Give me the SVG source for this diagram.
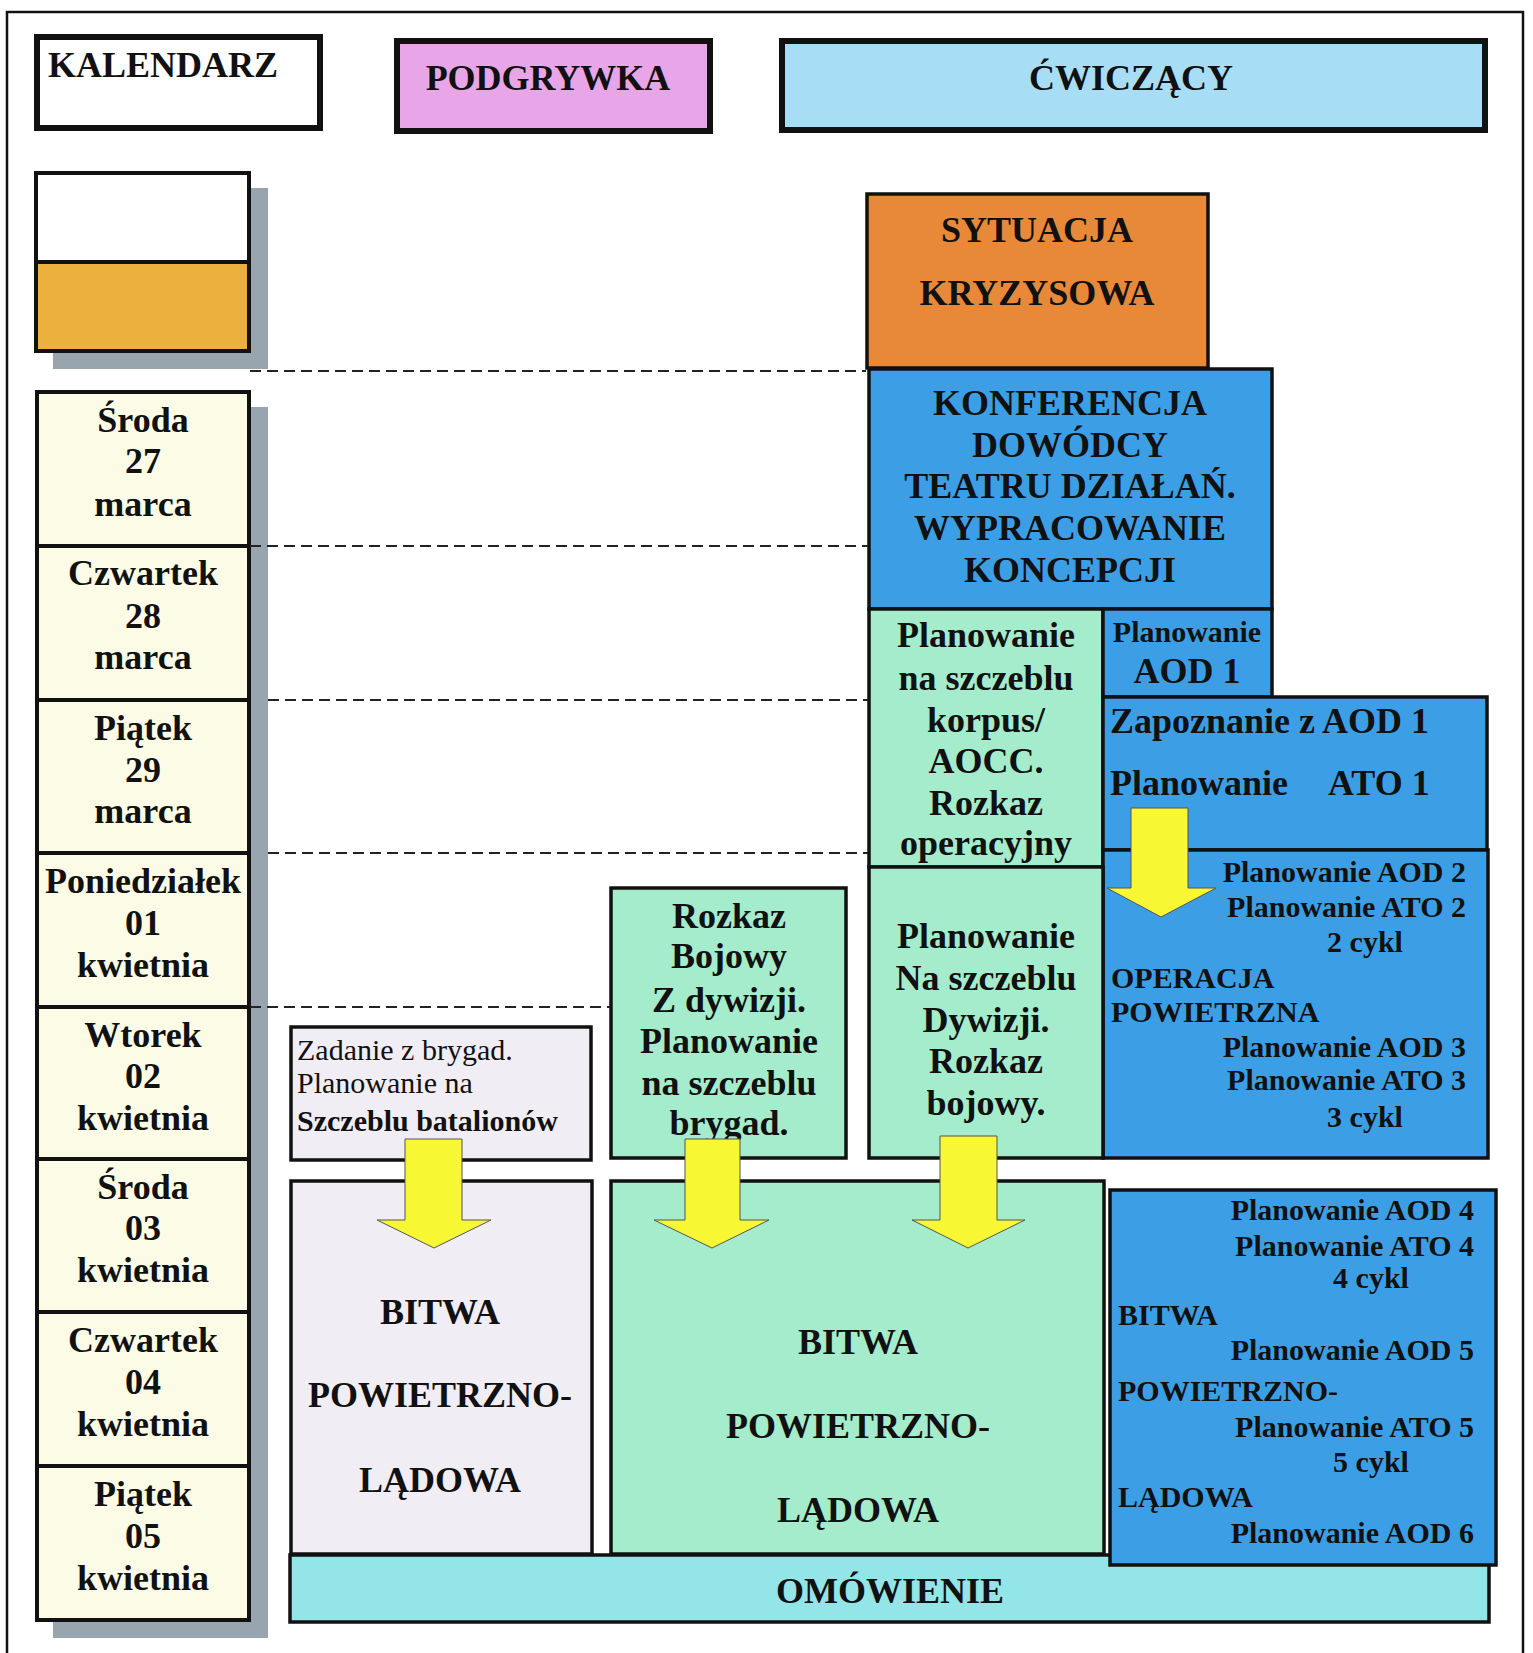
<svg xmlns="http://www.w3.org/2000/svg" width="1533" height="1653" viewBox="0 0 1533 1653">
<style>
text{font-family:"Liberation Serif","Times New Roman",serif;font-weight:bold;fill:#111;}
.c{text-anchor:middle;}
.e{text-anchor:end;}
.f36{font-size:36px;}
.f30{font-size:30px;}
.reg{font-weight:normal;}
.box{stroke:#111;stroke-width:3.5;}
.hdr{stroke:#111;stroke-width:6;}
.day{fill:#FCFCE6;stroke:#111;stroke-width:4;}
.blue{fill:#3C9FE6;}
.mint{fill:#A4ECCC;}
.lav{fill:#F1EDF5;}
.dash{stroke:#222;stroke-width:2;stroke-dasharray:11 6;fill:none;}
.arrow{fill:#F7F734;stroke:#555;stroke-width:1;}
.shadow{fill:#98A4AE;}
</style>
<rect x="0" y="0" width="1533" height="1653" fill="#fff"/>
<rect x="7" y="12" width="1516" height="1660" fill="none" stroke="#111" stroke-width="2.5"/>

<g id="kalendarz">
<rect class="hdr" x="37" y="37" width="283" height="91" fill="#fff"/>
<text class="f36" x="48" y="77">KALENDARZ</text>
</g>
<g id="podgrywka">
<rect class="hdr" x="397" y="41" width="313" height="90" fill="#E8A6E8"/>
<text class="f36 c" x="548" y="90">PODGRYWKA</text>
</g>
<g id="cwiczacy">
<rect class="hdr" x="782" y="41" width="703" height="89" fill="#A8DEF5"/>
<text class="f36 c" x="1131" y="90">ĆWICZĄCY</text>
</g>

<g id="legenda">
<rect class="shadow" x="53" y="188" width="215" height="181"/>
<rect x="36" y="173" width="213" height="89" fill="#fff"/>
<rect x="36" y="262" width="213" height="89" fill="#EBB13C"/>
<rect x="36" y="173" width="213" height="178" fill="none" stroke="#111" stroke-width="4"/>
<line x1="36" y1="262" x2="249" y2="262" stroke="#111" stroke-width="4"/>
</g>

<g id="kalendarz-dni">
<rect class="shadow" x="53" y="407" width="215" height="1231"/>
<g id="dzien-27">
<rect class="day" x="37" y="392" width="212" height="154"/>
<text class="f36 c" x="143" y="432">Środa</text><text class="f36 c" x="143" y="473">27</text><text class="f36 c" x="143" y="516">marca</text>
</g>
<g id="dzien-28">
<rect class="day" x="37" y="546" width="212" height="154"/>
<text class="f36 c" x="143" y="585">Czwartek</text><text class="f36 c" x="143" y="628">28</text><text class="f36 c" x="143" y="669">marca</text>
</g>
<g id="dzien-29">
<rect class="day" x="37" y="700" width="212" height="153"/>
<text class="f36 c" x="143" y="740">Piątek</text><text class="f36 c" x="143" y="782">29</text><text class="f36 c" x="143" y="823">marca</text>
</g>
<g id="dzien-01">
<rect class="day" x="37" y="853" width="212" height="154"/>
<text class="f36 c" x="143" y="893">Poniedziałek</text><text class="f36 c" x="143" y="935">01</text><text class="f36 c" x="143" y="977">kwietnia</text>
</g>
<g id="dzien-02">
<rect class="day" x="37" y="1007" width="212" height="152"/>
<text class="f36 c" x="143" y="1047">Wtorek</text><text class="f36 c" x="143" y="1088">02</text><text class="f36 c" x="143" y="1130">kwietnia</text>
</g>
<g id="dzien-03">
<rect class="day" x="37" y="1159" width="212" height="153"/>
<text class="f36 c" x="143" y="1199">Środa</text><text class="f36 c" x="143" y="1240">03</text><text class="f36 c" x="143" y="1282">kwietnia</text>
</g>
<g id="dzien-04">
<rect class="day" x="37" y="1312" width="212" height="154"/>
<text class="f36 c" x="143" y="1352">Czwartek</text><text class="f36 c" x="143" y="1394">04</text><text class="f36 c" x="143" y="1436">kwietnia</text>
</g>
<g id="dzien-05">
<rect class="day" x="37" y="1466" width="212" height="154"/>
<text class="f36 c" x="143" y="1506">Piątek</text><text class="f36 c" x="143" y="1548">05</text><text class="f36 c" x="143" y="1590">kwietnia</text>
</g>
</g>

<g id="sytuacja">
<rect class="box" x="867" y="194" width="341" height="174" fill="#E8893A"/>
<text class="f36 c" x="1037" y="242">SYTUACJA</text>
<text class="f36 c" x="1037" y="305">KRYZYSOWA</text>
</g>

<g id="konferencja">
<rect class="box blue" x="869" y="369" width="403" height="240"/>
<text class="f36 c" x="1070" y="415">KONFERENCJA</text>
<text class="f36 c" x="1070" y="457">DOWÓDCY</text>
<text class="f36 c" x="1070" y="498">TEATRU DZIAŁAŃ.</text>
<text class="f36 c" x="1070" y="540">WYPRACOWANIE</text>
<text class="f36 c" x="1070" y="582">KONCEPCJI</text>
</g>

<g id="korpus">
<rect class="box mint" x="869" y="609" width="234" height="258"/>
<text class="f36 c" x="986" y="647">Planowanie</text>
<text class="f36 c" x="986" y="690">na szczeblu</text>
<text class="f36 c" x="986" y="732">korpus/</text>
<text class="f36 c" x="986" y="773">AOCC.</text>
<text class="f36 c" x="986" y="815">Rozkaz</text>
<text class="f36 c" x="986" y="855">operacyjny</text>
</g>

<g id="aod1">
<rect class="box blue" x="1103" y="609" width="169" height="88"/>
<text class="f30 c" x="1187" y="642">Planowanie</text>
<text class="f36 c" x="1187" y="683">AOD 1</text>
</g>

<g id="zapoznanie">
<rect class="box blue" x="1103" y="697" width="384" height="153"/>
<text class="f36" x="1110" y="733">Zapoznanie z AOD 1</text>
<text class="f36" x="1110" y="795">Planowanie</text>
<text class="f36" x="1328" y="795">ATO 1</text>
</g>

<g id="operacja">
<rect class="box blue" x="1103" y="850" width="385" height="308"/>
<text class="f30 e" x="1466" y="882">Planowanie AOD 2</text>
<text class="f30 e" x="1466" y="917">Planowanie ATO 2</text>
<text class="f30 c" x="1365" y="952">2 cykl</text>
<text class="f30" x="1111" y="988">OPERACJA</text>
<text class="f30" x="1111" y="1022">POWIETRZNA</text>
<text class="f30 e" x="1466" y="1057">Planowanie AOD 3</text>
<text class="f30 e" x="1466" y="1090">Planowanie ATO 3</text>
<text class="f30 c" x="1365" y="1127">3 cykl</text>
</g>

<g id="dywizja">
<rect class="box mint" x="869" y="867" width="234" height="291"/>
<text class="f36 c" x="986" y="948">Planowanie</text>
<text class="f36 c" x="986" y="990">Na szczeblu</text>
<text class="f36 c" x="986" y="1032">Dywizji.</text>
<text class="f36 c" x="986" y="1073">Rozkaz</text>
<text class="f36 c" x="986" y="1115">bojowy.</text>
</g>

<g id="rozkaz-bojowy">
<rect class="box mint" x="611" y="888" width="235" height="270"/>
<text class="f36 c" x="729" y="928">Rozkaz</text>
<text class="f36 c" x="729" y="968">Bojowy</text>
<text class="f36 c" x="729" y="1012">Z dywizji.</text>
<text class="f36 c" x="729" y="1053">Planowanie</text>
<text class="f36 c" x="729" y="1095">na szczeblu</text>
<text class="f36 c" x="729" y="1135">brygad.</text>
</g>

<g id="zadanie">
<rect class="box lav" x="291" y="1027" width="300" height="133"/>
<text class="f30 reg" x="297" y="1060">Zadanie z brygad.</text>
<text class="f30 reg" x="297" y="1093">Planowanie na</text>
<text class="f30" x="297" y="1131">Szczeblu batalionów</text>
</g>

<g id="bitwa-podgrywka">
<rect class="box lav" x="291" y="1181" width="301" height="373"/>
<text class="f36 c" x="440" y="1324">BITWA</text>
<text class="f36 c" x="440" y="1407">POWIETRZNO-</text>
<text class="f36 c" x="440" y="1492">LĄDOWA</text>
</g>

<g id="bitwa-cwiczacy">
<rect class="box mint" x="611" y="1181" width="493" height="373"/>
<text class="f36 c" x="858" y="1354">BITWA</text>
<text class="f36 c" x="858" y="1438">POWIETRZNO-</text>
<text class="f36 c" x="858" y="1522">LĄDOWA</text>
</g>

<g id="omowienie">
<rect class="box" x="290" y="1555" width="1199" height="67" fill="#93E5E8"/>
<text class="f36 c" x="890" y="1603">OMÓWIENIE</text>
</g>

<g id="bitwa-planowanie">
<rect class="box blue" x="1110" y="1190" width="386" height="375"/>
<text class="f30 e" x="1474" y="1220">Planowanie AOD 4</text>
<text class="f30 e" x="1474" y="1256">Planowanie ATO 4</text>
<text class="f30 c" x="1371" y="1288">4 cykl</text>
<text class="f30" x="1118" y="1325">BITWA</text>
<text class="f30 e" x="1474" y="1360">Planowanie AOD 5</text>
<text class="f30" x="1118" y="1401">POWIETRZNO-</text>
<text class="f30 e" x="1474" y="1437">Planowanie ATO 5</text>
<text class="f30 c" x="1371" y="1472">5 cykl</text>
<text class="f30" x="1118" y="1507">LĄDOWA</text>
<text class="f30 e" x="1474" y="1543">Planowanie AOD 6</text>
</g>

<g id="connectors">
<line class="dash" x1="250" y1="371" x2="866" y2="371"/>
<line class="dash" x1="250" y1="546" x2="868" y2="546"/>
<line class="dash" x1="268" y1="700" x2="868" y2="700"/>
<line class="dash" x1="268" y1="853" x2="868" y2="853"/>
<line class="dash" x1="250" y1="1007" x2="610" y2="1007"/>
<polygon class="arrow" points="1131,808 1188,808 1188,888 1216,888 1161,917 1107,888 1131,888"/>
<polygon class="arrow" points="405,1139 462,1139 462,1220 491,1220 434,1248 377,1220 405,1220"/>
<polygon class="arrow" points="685,1139 740,1139 740,1220 769,1220 712,1248 654,1220 685,1220"/>
<polygon class="arrow" points="940,1136 997,1136 997,1220 1025,1220 968,1248 912,1220 940,1220"/>
</g>
</svg>
